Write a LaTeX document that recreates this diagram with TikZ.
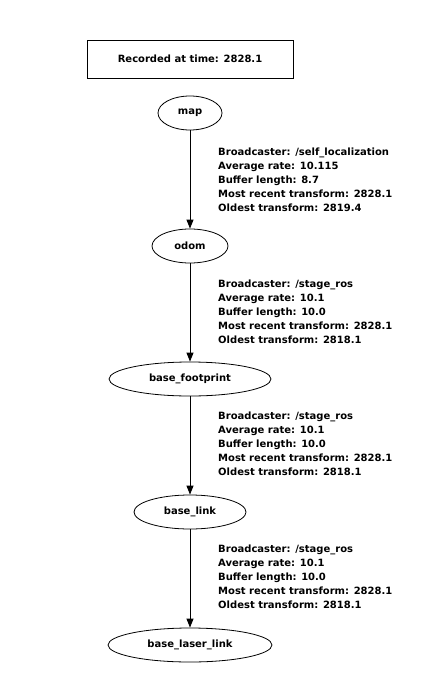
\documentclass[tikz,border=0pt]{standalone}
\usepackage{fontspec}
\setmainfont{DejaVu Sans}[BoldFont={DejaVu Sans Bold}]
\usetikzlibrary{arrows.meta,shapes.geometric}
\begin{document}
\begin{tikzpicture}[x=1bp,y=-1bp,
  every node/.style={font=\fontsize{10bp}{14bp}\selectfont\bfseries, inner sep=0pt},
  tfnode/.style={draw, ellipse, line width=0.8bp, minimum height=34bp},
  tfedge/.style={draw, line width=0.9bp, -{Triangle[length=9bp,width=7bp]}},
  tflabel/.style={anchor=west, align=left}]
\fill[white] (0,0) rectangle (448,693);
\useasboundingbox (0,0) rectangle (448,693);
\node[draw, line width=0.8bp, minimum width=206bp, minimum height=38bp] (rec) at (190,59) {Recorded at time: 2828.1};
\node[tfnode, minimum width=64bp] (map) at (190,113) {map};
\node[tfnode, minimum width=76bp] (odom) at (190,246) {odom};
\node[tfnode, minimum width=162bp] (bf) at (190,379) {base\_footprint};
\node[tfnode, minimum width=112bp] (bl) at (190,512) {base\_link};
\node[tfnode, minimum width=164bp] (bll) at (190,645) {base\_laser\_link};
\draw[tfedge] (map) -- (odom);
\draw[tfedge] (odom) -- (bf);
\draw[tfedge] (bf) -- (bl);
\draw[tfedge] (bl) -- (bll);
\node[tflabel] (l1) at (218,180) {Broadcaster: /self\_localization\\Average rate: 10.115\\Buffer length: 8.7\\Most recent transform: 2828.1\\Oldest transform: 2819.4};
\node[tflabel] (l2) at (218,312) {Broadcaster: /stage\_ros\\Average rate: 10.1\\Buffer length: 10.0\\Most recent transform: 2828.1\\Oldest transform: 2818.1};
\node[tflabel] (l3) at (218,444) {Broadcaster: /stage\_ros\\Average rate: 10.1\\Buffer length: 10.0\\Most recent transform: 2828.1\\Oldest transform: 2818.1};
\node[tflabel] (l4) at (218,577) {Broadcaster: /stage\_ros\\Average rate: 10.1\\Buffer length: 10.0\\Most recent transform: 2828.1\\Oldest transform: 2818.1};
\end{tikzpicture}
\end{document}
